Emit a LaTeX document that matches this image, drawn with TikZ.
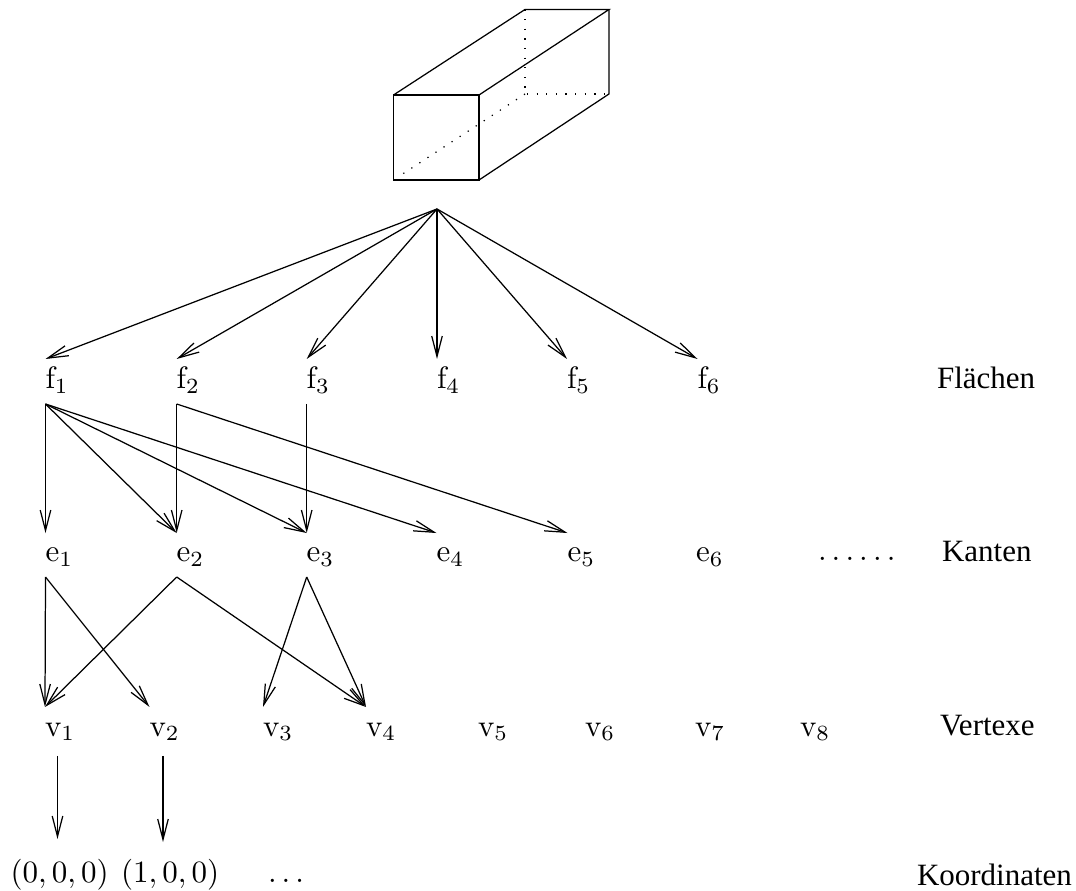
\documentclass[tikz,border=0pt]{standalone}
\usepackage{amsmath}
\usepackage{amsfonts}
\usepackage[no-math]{fontspec}
\setmainfont{Liberation Serif}
\usepackage{tikz}
\usetikzlibrary{arrows.meta}
\tikzset{
    pfeil/.style={-{Straight Barb[length=6.6pt,width=3.4pt]}},
    punkte/.style={dash pattern=on 0.4pt off 2.7pt},
    lbl/.style={anchor=base west, inner sep=0pt, outer sep=0pt},
    zeilef/.style={lbl, text height=9.68pt, text depth=4.84pt},
    zeilee/.style={lbl, text height=9.35pt, text depth=4.84pt},
    zeilev/.style={lbl, text height=9.36pt, text depth=6.45pt}
}

\begin{document}
\begin{tikzpicture}[x=0.3226pt,y=-0.3226pt]
    \useasboundingbox (0,0) rectangle (1076,891);
    % quader
    \draw (393.5,95) rectangle (479,180);
    \draw (393.5,95) -- (525,9.5) -- (609,9.5) -- (479,95);
    \draw (609,9.5) -- (609,94) -- (479,180);
    \draw[punkte] (525,9.5) -- (525,94) -- (609,94);
    \draw[punkte] (525,94) -- (400,175.7);
    \coordinate (wurzel) at (437,209);
    % flaechen
    \node[zeilef] (f1) at (45.5,389) {$\mathrm{f}_1$};
    \node[zeilef] (f2) at (176.7,389) {$\mathrm{f}_2$};
    \node[zeilef] (f3) at (306.7,389) {$\mathrm{f}_3$};
    \node[zeilef] (f4) at (437,389) {$\mathrm{f}_4$};
    \node[zeilef] (f5) at (567,389) {$\mathrm{f}_5$};
    \node[zeilef] (f6) at (697.5,389) {$\mathrm{f}_6$};
    \node[lbl] (flaechen) at (937,389) {Flächen};
    % kanten
    \node[zeilee] (e1) at (45.5,562) {$\mathrm{e}_1$};
    \node[zeilee] (e2) at (176.7,562) {$\mathrm{e}_2$};
    \node[zeilee] (e3) at (306.7,562) {$\mathrm{e}_3$};
    \node[zeilee] (e4) at (436.5,562) {$\mathrm{e}_4$};
    \node[zeilee] (e5) at (567.5,562) {$\mathrm{e}_5$};
    \node[zeilee] (e6) at (696,562) {$\mathrm{e}_6$};
    \node[lbl] (epunkte) at (818,561) {$\ldots\ldots$};
    \node[lbl] (kanten) at (942,562) {Kanten};
    % vertexe
    \node[zeilev] (v1) at (45,736) {$\mathrm{v}_1$};
    \node[zeilev] (v2) at (149.5,736) {$\mathrm{v}_2$};
    \node[zeilev] (v3) at (263,736) {$\mathrm{v}_3$};
    \node[zeilev] (v4) at (366,736) {$\mathrm{v}_4$};
    \node[zeilev] (v5) at (478,736) {$\mathrm{v}_5$};
    \node[zeilev] (v6) at (585,736) {$\mathrm{v}_6$};
    \node[zeilev] (v7) at (695,736) {$\mathrm{v}_7$};
    \node[zeilev] (v8) at (800,736) {$\mathrm{v}_8$};
    \node[lbl] (vertexe) at (940,735) {Vertexe};
    % koordinaten
    \node[lbl] (c1) at (10.5,882.5) {$(0,0,0)$};
    \node[lbl] (c2) at (121,882.5) {$(1,0,0)$};
    \node[lbl] (cpunkte) at (268,882.5) {$\ldots$};
    \node[lbl] (koordinaten) at (917,885) {Koordinaten};
    \coordinate (c1oben) at (57.5,839);
    \coordinate (c2oben) at (163,842);
    % pfeile
    \draw[pfeil] (wurzel) -- (f1.north west);
    \draw[pfeil] (wurzel) -- (f2.north west);
    \draw[pfeil] (wurzel) -- (f3.north west);
    \draw[pfeil] (wurzel) -- (f4.north west);
    \draw[pfeil] (wurzel) -- (f5.north west);
    \draw[pfeil] (wurzel) -- (f6.north west);
    \draw[pfeil] (f1.south west) -- (e1.north west);
    \draw[pfeil] (f1.south west) -- (e2.north west);
    \draw[pfeil] (f1.south west) -- (e3.north west);
    \draw[pfeil] (f1.south west) -- (e4.north west);
    \draw[pfeil] (f2.south west) -- (e2.north west);
    \draw[pfeil] (f2.south west) -- (e5.north west);
    \draw[pfeil] (f3.south west) -- (e3.north west);
    \draw[pfeil] (e1.south west) -- (v1.north west);
    \draw[pfeil] (e1.south west) -- (v2.north west);
    \draw[pfeil] (e2.south west) -- (v1.north west);
    \draw[pfeil] (e2.south west) -- (v4.north west);
    \draw[pfeil] (e3.south west) -- (v3.north west);
    \draw[pfeil] (e3.south west) -- (v4.north west);
    \draw[pfeil] (v1.south -| c1oben) -- (c1oben);
    \draw[pfeil] (v2.south -| c2oben) -- (c2oben);
\end{tikzpicture}
\end{document}
